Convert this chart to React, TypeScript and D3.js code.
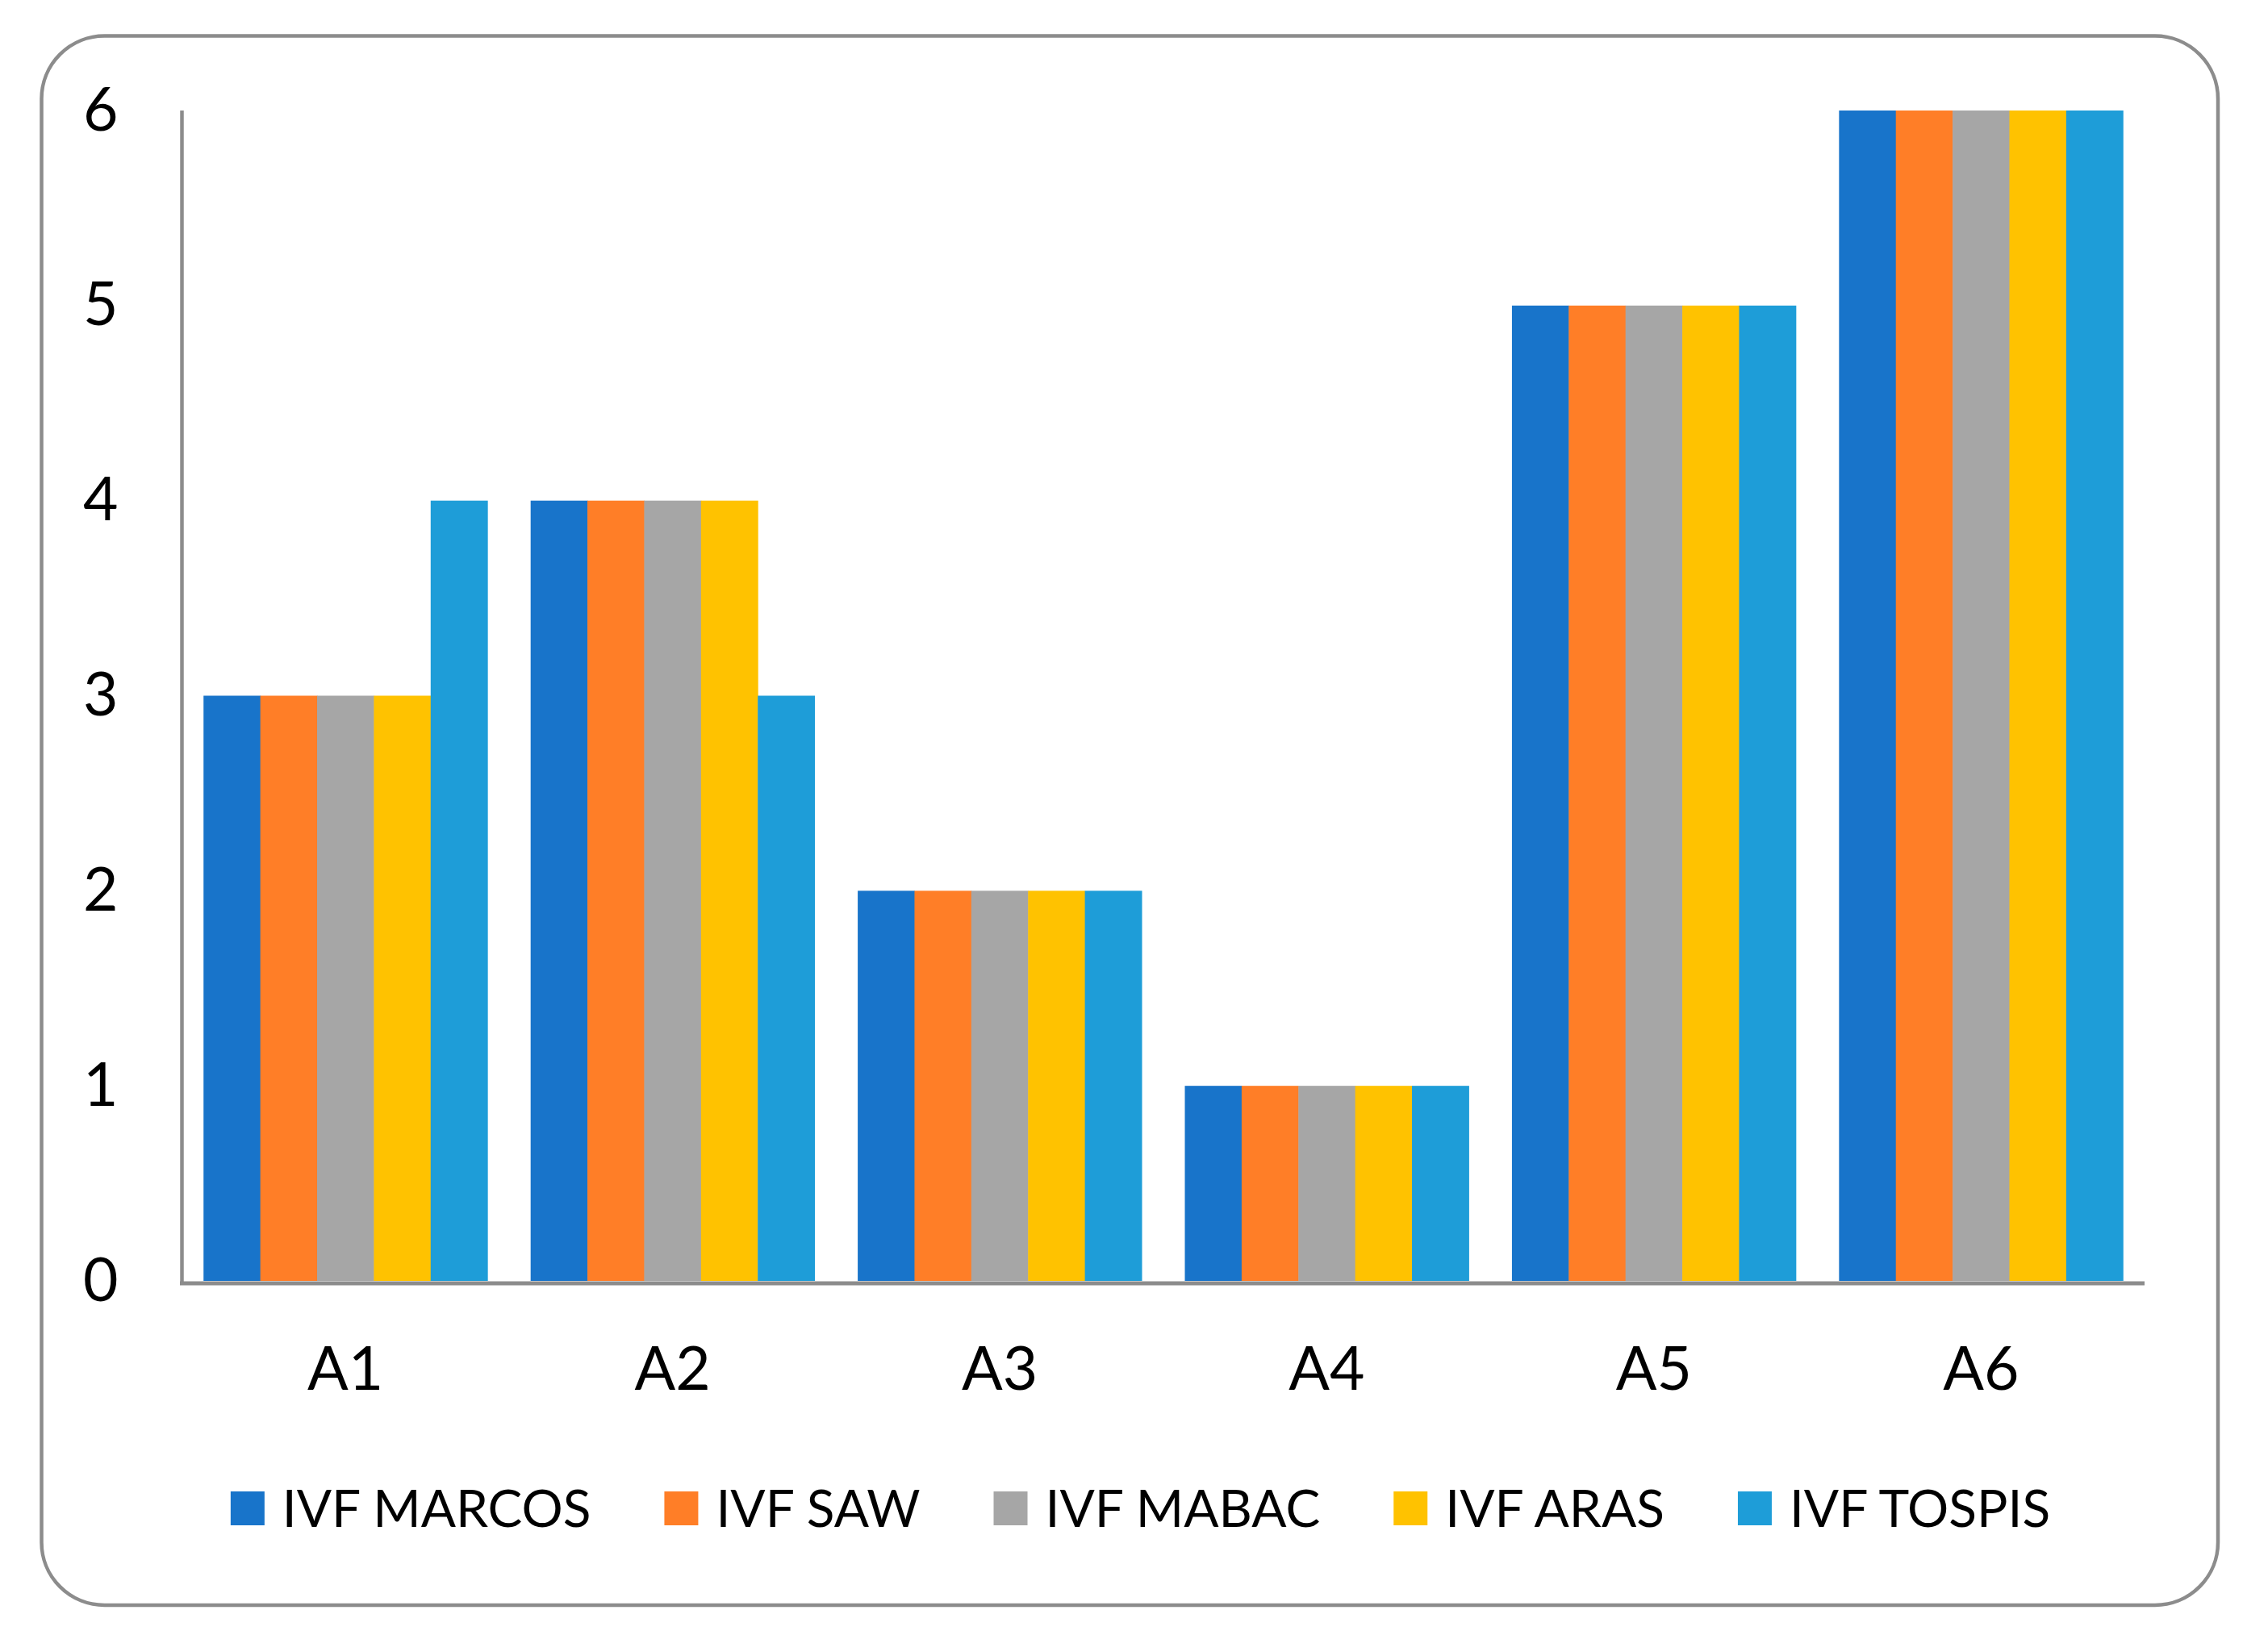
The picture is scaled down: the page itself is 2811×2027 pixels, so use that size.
import React, { useRef, useEffect } from "react";
import * as d3 from "d3";

const categories = ["A1", "A2", "A3", "A4", "A5", "A6"];
const seriesNames = ["IVF MARCOS", "IVF SAW", "IVF MABAC", "IVF ARAS", "IVF TOSPIS"];
const marcos = [3, 4, 2, 1, 5, 6];
const saw = [3, 4, 2, 1, 5, 6];
const mabac = [3, 4, 2, 1, 5, 6];
const aras = [3, 4, 2, 1, 5, 6];
const tospis = [4, 3, 2, 1, 5, 6];
const yTicks = [0, 1, 2, 3, 4, 5, 6];

const colors = ["#1874CA", "#FF7E27", "#A6A6A6", "#FFC200", "#1E9DD8"];
const FONT = "Lato, 'Open Sans', sans-serif";

const App = () => {
  const canvas = useRef<SVGSVGElement>(null);

  const width = 2811;
  const height = 2027;
  const plot = { left: 225.5, right: 2658, top: 137, bottom: 1588 };

  useEffect(() => {
    const svg = d3.select(canvas.current);
    svg.selectAll("*").remove();

    const series = [marcos, saw, mabac, aras, tospis];

    const xScale = d3.scaleBand<string>()
      .domain(categories)
      .range([plot.left, plot.right])
      .paddingInner(0.132)
      .paddingOuter(0.066);
    const inner = d3.scaleBand<number>()
      .domain(d3.range(series.length))
      .range([0, xScale.bandwidth()]);
    const yScale = d3.scaleLinear().domain([0, 6]).range([plot.bottom, plot.top]);

    // outer frame
    svg.append("rect")
      .attr("x", 51.5).attr("y", 44.5)
      .attr("width", 2749 - 51.5).attr("height", 1990 - 44.5)
      .attr("rx", 78).attr("ry", 78)
      .attr("fill", "#fff")
      .attr("stroke", "#8c8c8c")
      .attr("stroke-width", 4.5);

    // bars
    series.forEach((vals, si) => {
      svg.append("g")
        .selectAll("rect")
        .data(vals)
        .join("rect")
        .attr("x", (d, i) => (xScale(categories[i]) as number) + (inner(si) as number))
        .attr("y", d => yScale(d))
        .attr("width", inner.bandwidth() + 0.5)
        .attr("height", d => plot.bottom - yScale(d))
        .attr("fill", colors[si]);
    });

    // y axis
    const yAxis = svg.append("g")
      .attr("transform", "translate(" + plot.left + ",0)")
      .call(d3.axisLeft(yScale).tickValues(yTicks).tickFormat(d3.format("d")).tickSize(0).tickSizeOuter(0).tickPadding(79));
    yAxis.select(".domain").attr("stroke", "#8c8c8c").attr("stroke-width", 4.5)
      .attr("d", "M0," + plot.top + "V" + (plot.bottom + 5));
    yAxis.selectAll("text").attr("font-family", FONT).attr("font-size", 75).attr("fill", "#000");

    // x axis
    const xAxis = svg.append("g")
      .attr("transform", "translate(0," + (plot.bottom + 3) + ")")
      .call(d3.axisBottom(xScale).tickSize(0).tickSizeOuter(0).tickPadding(79));
    xAxis.select(".domain").attr("stroke", "#8c8c8c").attr("stroke-width", 5)
      .attr("d", "M" + (plot.left - 2.5) + ",0H" + plot.right);
    xAxis.selectAll("text").attr("font-family", FONT).attr("font-size", 75).attr("fill", "#000");

    // legend
    const legend = svg.append("g");
    const box = 42, boxGap = 22, itemGap = 91, legendY = 1870;
    const items = seriesNames.map((name, i) => {
      const g = legend.append("g");
      g.append("rect").attr("width", box).attr("height", box).attr("y", legendY - box / 2).attr("fill", colors[i]);
      const t = g.append("text")
        .attr("x", box + boxGap).attr("y", legendY + 23)
        .attr("font-family", FONT).attr("font-size", 64).attr("fill", "#000")
        .text(name);
      const w = (t.node() as SVGTextElement).getComputedTextLength();
      return { g, w: box + boxGap + w };
    });
    const total = d3.sum(items, d => d.w) + itemGap * (items.length - 1);
    let x = 1413.5 - total / 2;
    items.forEach(it => {
      it.g.attr("transform", "translate(" + x + ",0)");
      x += it.w + itemGap;
    });
  });

  return (
    <svg ref={canvas} width={width} height={height}
      style={{ position: "absolute", left: 0, top: 0, background: "#fff" }} />
  );
};

export default App;
